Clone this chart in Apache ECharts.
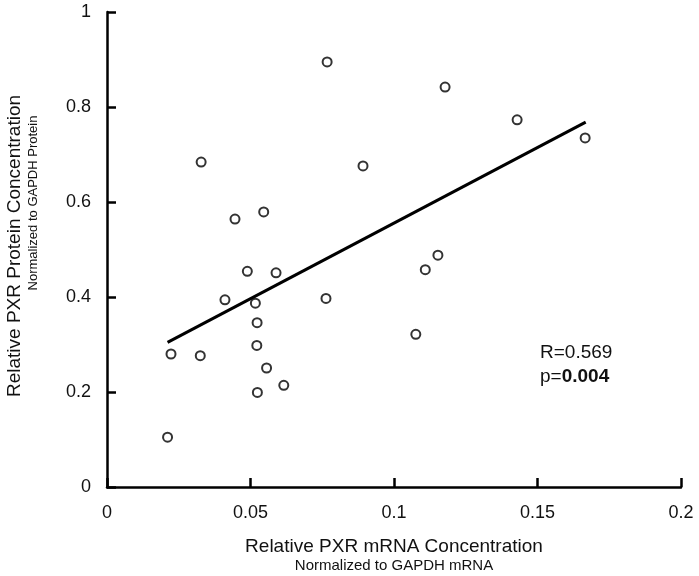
<!DOCTYPE html>
<html>
<head>
<meta charset="utf-8">
<script src="https://cdn.jsdelivr.net/npm/echarts@6/dist/echarts.min.js"></script>
<style>html,body{margin:0;padding:0;background:#fff}#c{width:699px;height:576px}</style>
</head>
<body>
<div id="c"></div>
<script>
// Data
var mrna = [0.0767, 0.1178, 0.1429, 0.1666, 0.0328, 0.0892, 0.0446, 0.0546, 0.0489, 0.0589,
            0.1153, 0.1109, 0.0411, 0.0517, 0.0763, 0.0523, 0.0223, 0.0325, 0.0522, 0.0556,
            0.0616, 0.0524, 0.0211, 0.1076];
var protein = [0.895, 0.842, 0.773, 0.735, 0.684, 0.676, 0.564, 0.579, 0.454, 0.451,
               0.488, 0.4575, 0.394, 0.387, 0.397, 0.346, 0.280, 0.2765, 0.298, 0.2505,
               0.214, 0.199, 0.105, 0.3215];
var fitX = [0.0211, 0.1668];
var fitY = [0.3046, 0.768];
var xTicks = [0, 0.05, 0.1, 0.15, 0.2];
var yTicks = [0, 0.2, 0.4, 0.6, 0.8, 1];

var pts = mrna.map(function (x, i) { return [x, protein[i]]; });
var fit = fitX.map(function (x, i) { return [x, fitY[i]]; });
var FONT = '"Liberation Sans", Arial, sans-serif';

var chart = echarts.init(document.getElementById('c'), null, {renderer: 'canvas'});
chart.setOption({
  animation: false,
  backgroundColor: '#fff',
  grid: {left: 107, right: 18, top: 12, bottom: 89, containLabel: false},
  xAxis: {
    type: 'value', min: xTicks[0], max: xTicks[xTicks.length - 1], interval: 0.05,
    axisLine: {show: true, lineStyle: {color: '#000', width: 2.5}},
    axisTick: {show: true, inside: true, length: 9, lineStyle: {color: '#000', width: 2.5}},
    splitLine: {show: false},
    axisLabel: {color: '#111', fontSize: 18, fontFamily: FONT, margin: 17,
      formatter: function (v) { return String(+v.toFixed(2)); }}
  },
  yAxis: {
    type: 'value', min: yTicks[0], max: yTicks[yTicks.length - 1], interval: 0.2,
    axisLine: {show: true, lineStyle: {color: '#000', width: 2.5}},
    axisTick: {show: true, inside: true, length: 9, lineStyle: {color: '#000', width: 2.5}},
    splitLine: {show: false},
    axisLabel: {color: '#111', fontSize: 18, fontFamily: FONT, margin: 16,
      formatter: function (v) { return String(+v.toFixed(1)); }}
  },
  series: [
    {
      type: 'line', data: fit, symbol: 'none', z: 2,
      lineStyle: {color: '#000', width: 3}
    },
    {
      type: 'scatter', data: pts, symbol: 'circle', symbolSize: 9, z: 3,
      itemStyle: {color: '#fff', borderColor: '#000', borderWidth: 2}
    }
  ],
  graphic: [
    {type: 'text', x: 15, y: 246, rotation: Math.PI / 2,
      style: {text: 'Relative PXR Protein Concentration', font: '19px ' + FONT, fill: '#111',
        textAlign: 'center', textVerticalAlign: 'middle'}},
    {type: 'text', x: 33, y: 203, rotation: Math.PI / 2,
      style: {text: 'Normalized to GAPDH Protein', font: '13px ' + FONT, fill: '#111',
        textAlign: 'center', textVerticalAlign: 'middle'}},
    {type: 'text', x: 394, y: 547,
      style: {text: 'Relative PXR mRNA Concentration', font: '19px ' + FONT, fill: '#111',
        textAlign: 'center', textVerticalAlign: 'middle'}},
    {type: 'text', x: 394, y: 566,
      style: {text: 'Normalized to GAPDH mRNA', font: '15px ' + FONT, fill: '#111',
        textAlign: 'center', textVerticalAlign: 'middle'}},
    {type: 'text', x: 540, y: 353,
      style: {text: 'R=0.569', font: '19px ' + FONT, fill: '#111',
        textAlign: 'left', textVerticalAlign: 'middle'}},
    {type: 'text', x: 540, y: 377,
      style: {text: '{n|p=}{b|0.004}', fill: '#111', textAlign: 'left', textVerticalAlign: 'middle',
        rich: {n: {fontSize: 19, fontFamily: FONT, fill: '#111'},
               b: {fontSize: 19, fontFamily: FONT, fontWeight: 'bold', fill: '#111'}}}}
  ]
});
</script>
</body>
</html>
